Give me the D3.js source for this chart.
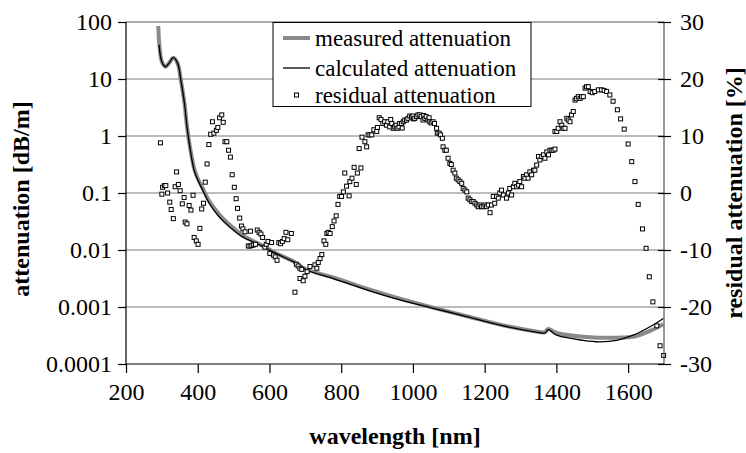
<!DOCTYPE html>
<html><head><meta charset="utf-8">
<script src="https://cdn.jsdelivr.net/npm/d3@7"></script>
<style>
html,body{margin:0;padding:0;background:#fff;}
svg{display:block;font-family:"Liberation Serif","Times New Roman",serif;}
</style></head>
<body><svg id="c" width="746" height="453"></svg>
<script>
// ---- data ----
const xTicks = [200,400,600,800,1000,1200,1400,1600];
const yTicks = [0.0001,0.001,0.01,0.1,1,10,100];
const yTickLabels = ["0.0001","0.001","0.01","0.1","1","10","100"];
const rTicks = [-30,-20,-10,0,10,20,30];

const calcWl  = [292,300,310,320,332,344,353,363,370,378,390,400,414,432,460,488,525,572,618,665,702,778,871,964,1057,1150,1243,1335,1368,1377,1401,1475,1521,1568,1614,1661,1698];
const calcVal = [40,20,16.4,19,23.7,18.8,9.5,3.75,1.46,0.64,0.25,0.17,0.112,0.066,0.038,0.0257,0.017,0.0123,0.0087,0.0063,0.0045,0.00316,0.0020,0.00133,0.00095,0.00068,0.00048,0.00037,0.00035,0.0004,0.00032,0.00026,0.000245,0.00026,0.00032,0.00045,0.00063];

const measWl  = [290,293,300,310,320,332,344,353,363,370,378,390,400,414,432,460,488,525,572,618,665,702,778,871,964,1057,1150,1243,1335,1368,1377,1401,1475,1521,1568,1614,1661,1698];
const measVal = [85,40,20,16.4,19,23.7,18.8,9.5,3.75,1.46,0.66,0.27,0.18,0.12,0.072,0.042,0.028,0.018,0.0127,0.0088,0.0064,0.0046,0.0033,0.0021,0.0014,0.00097,0.00069,0.00049,0.00038,0.00036,0.00041,0.00035,0.0003,0.00029,0.00029,0.0003,0.00038,0.0005];

// residual attenuation [%] : [wavelength, value]
const residual = [[296,8.8],[300,-0.2],[302,1.0],[307,1.3],[311,1.3],[316,0.0],[322,-1.6],[326,-2.9],[332,-4.5],[337,1.1],[341,3.7],[346,1.5],[351,0.4],[357,-1.9],[362,-0.8],[365,-5.1],[370,-5.4],[376,-2.2],[381,-3.0],[387,-0.4],[390,-7.8],[396,-8.4],[401,-9.0],[406,-6.2],[411,-2.8],[416,-1.8],[421,1.9],[426,5.1],[431,8.5],[436,10.3],[441,12.5],[445,10.5],[452,11.0],[456,11.5],[461,13.2],[467,13.7],[471,12.4],[476,9.0],[481,9.0],[486,7.5],[491,6.3],[496,3.2],[502,1.0],[507,-1.0],[511,-2.7],[517,-4.4],[522,-5.8],[526,-6.3],[532,-6.8],[541,-9.3],[546,-9.3],[547,-6.7],[551,-9.2],[556,-9.1],[561,-9.0],[566,-6.5],[571,-6.9],[576,-7.2],[581,-7.8],[587,-9.5],[591,-9.0],[596,-8.5],[601,-10.6],[606,-8.7],[611,-10.9],[616,-11.2],[621,-11.8],[626,-8.7],[631,-8.9],[636,-8.5],[641,-8.0],[646,-6.9],[651,-8.2],[661,-7.1],[671,-17.4],[675,-12.5],[680,-12.8],[685,-13.2],[685,-15.0],[690,-13.4],[694,-15.4],[699,-14.6],[705,-13.8],[713,-12.9],[727,-12.6],[732,-13.2],[736,-12.2],[741,-11.5],[746,-10.8],[752,-8.4],[757,-9.0],[760,-7.1],[764,-6.9],[769,-7.1],[775,-5.9],[780,-4.9],[786,-4.0],[791,-2.0],[796,-0.6],[801,-0.6],[806,0.2],[810,3.5],[815,1.2],[822,-0.5],[824,2.0],[830,2.6],[836,4.5],[842,1.5],[845,3.5],[850,7.8],[855,4.4],[858,9.8],[866,9.0],[871,8.1],[875,10.2],[880,10.2],[885,10.2],[891,11.1],[899,10.8],[901,11.5],[906,13.2],[911,12.9],[916,12.2],[921,12.5],[926,11.9],[930,12.5],[935,11.6],[938,12.9],[941,12.2],[945,11.35],[949,11.6],[953,11.9],[956,11.35],[961,11.6],[963,12.2],[968,12.2],[970,11.4],[973,12.5],[977,12.8],[982,12.8],[986,13.1],[991,13.5],[996,13.3],[1000,13.5],[1002,13.0],[1005,13.1],[1010,13.4],[1014,13.7],[1019,13.7],[1023,13.4],[1028,12.8],[1030,13.6],[1033,13.1],[1037,13.4],[1042,12.8],[1045,13.2],[1047,12.5],[1051,12.3],[1056,12.5],[1060,12.2],[1066,11.35],[1068,10.5],[1073,10.5],[1077,10.2],[1082,9.6],[1084,8.1],[1089,7.5],[1093,7.5],[1098,6.1],[1103,5.2],[1107,5.0],[1112,4.0],[1117,3.5],[1121,2.6],[1126,2.3],[1131,2.0],[1136,1.7],[1140,0.8],[1145,0.5],[1150,0.2],[1154,-0.9],[1159,-1.2],[1164,-1.5],[1168,-1.5],[1173,-1.8],[1178,-2.1],[1182,-2.4],[1187,-2.1],[1191,-2.4],[1196,-2.4],[1201,-2.1],[1205,-2.4],[1210,-2.1],[1215,-3.45],[1219,-2.1],[1224,-0.6],[1228,-1.8],[1233,-0.6],[1238,-0.9],[1242,0.0],[1247,0.5],[1252,-0.35],[1261,-0.9],[1266,0.0],[1270,0.8],[1275,-0.35],[1280,1.1],[1284,1.7],[1289,1.1],[1294,1.4],[1298,2.0],[1303,1.1],[1308,2.9],[1312,2.6],[1317,3.2],[1321,2.6],[1326,3.7],[1331,3.2],[1336,4.0],[1340,4.0],[1345,4.9],[1350,6.4],[1354,5.8],[1359,6.4],[1364,6.7],[1368,6.1],[1373,7.2],[1378,6.7],[1382,7.5],[1387,7.5],[1391,7.5],[1396,7.7],[1396,10.8],[1401,10.8],[1405,11.35],[1410,12.5],[1415,11.9],[1419,11.35],[1424,11.35],[1429,13.1],[1433,12.8],[1438,12.5],[1442,13.7],[1447,14.3],[1452,16.3],[1456,16.6],[1461,16.9],[1466,16.6],[1470,16.9],[1475,16.9],[1480,18.4],[1484,18.65],[1489,18.65],[1494,17.8],[1500,17.6],[1507,17.8],[1517,18.1],[1526,18.1],[1533,18.0],[1540,17.8],[1549,17.2],[1558,16.1],[1570,14.6],[1579,13.0],[1589,11.2],[1600,8.6],[1610,5.5],[1619,2.0],[1628,-2.0],[1640,-6.3],[1650,-9.7],[1659,-14.7],[1669,-19.1],[1680,-23.3],[1689,-26.8],[1699,-28.5]];

const legendLabels = ["measured attenuation","calculated attenuation","residual attenuation"];

// ---- layout ----
const svg = d3.select("#c");
const L = 126, R = 664, T = 22, B = 364;
const x = d3.scaleLinear().domain([200,1700]).range([L,R]);
const y = d3.scaleLog().domain([0.0001,100]).range([B,T]);
const yr = d3.scaleLinear().domain([-30,30]).range([B,T]);
const FS = 24;

// gridlines
svg.append("g").selectAll("line").data(yTicks.slice(1)).join("line")
  .attr("x1",L).attr("x2",R).attr("y1",d=>y(d)).attr("y2",d=>y(d))
  .attr("stroke",d=>d===100?"#555":"#7a7a7a").attr("stroke-width",1.2);

// clip
svg.append("clipPath").attr("id","clp").append("rect").attr("x",L).attr("y",T-2).attr("width",R-L).attr("height",B-T+2);
const plot = svg.append("g").attr("clip-path","url(#clp)");

const line = d3.line().x(d=>x(d[0])).y(d=>y(d[1])).curve(d3.curveCatmullRom.alpha(0.5));
plot.append("path").datum(measWl.map((w,i)=>[w,measVal[i]]))
  .attr("d",line).attr("fill","none").attr("stroke","#8a8a8a").attr("stroke-width",4);
plot.append("path").datum(calcWl.map((w,i)=>[w,calcVal[i]]))
  .attr("d",line).attr("fill","none").attr("stroke","#000").attr("stroke-width",1.3);

// residual markers
svg.append("g").selectAll("rect").data(residual).join("rect")
  .attr("x",d=>x(d[0])-2).attr("y",d=>yr(d[1])-2).attr("width",4).attr("height",4)
  .attr("fill","#fff").attr("stroke","#000").attr("stroke-width",1);

// axes
const axL = svg.append("g").attr("transform",`translate(${L},0)`)
  .call(d3.axisLeft(y).tickValues(yTicks).tickFormat((d,i)=>yTickLabels[i]).tickSize(8).tickPadding(6));
const axR = svg.append("g").attr("transform",`translate(${R},0)`)
  .call(d3.axisRight(yr).tickValues(rTicks).tickFormat(d=>String(d)).tickSize(7).tickPadding(9));
axR.selectAll(".tick line").attr("x1",-6);
const axB = svg.append("g").attr("transform",`translate(0,${B})`)
  .call(d3.axisBottom(x).tickValues(xTicks).tickFormat(d=>String(d)).tickSize(9).tickPadding(10));
[axL,axR,axB].forEach(g=>{
  g.selectAll(".domain").attr("stroke","#000").attr("stroke-width",1.2);
  g.selectAll(".tick line").attr("stroke","#000").attr("stroke-width",1.2);
  g.selectAll("text").attr("font-size",FS).attr("font-family","Liberation Serif, Times New Roman, serif").attr("fill","#000");
});
axL.select(".domain").attr("d",`M0,${B}V${T}`);
axR.select(".domain").attr("d",`M0,${B}V${T}`).attr("stroke","#555");
axB.select(".domain").attr("d",`M${L},0H${R}`);
axB.selectAll("text").attr("dy","0.71em");

// titles
svg.append("text").attr("transform",`translate(29,199) rotate(-90)`).attr("text-anchor","middle")
  .attr("font-size",FS).attr("font-weight","bold").text("attenuation [dB/m]");
svg.append("text").attr("transform",`translate(742,193) rotate(-90)`).attr("text-anchor","middle")
  .attr("font-size",FS).attr("font-weight","bold").text("residual attenuation [%]");
svg.append("text").attr("x",(L+R)/2).attr("y",444).attr("text-anchor","middle")
  .attr("font-size",FS).attr("font-weight","bold").text("wavelength [nm]");

// legend
const lg = svg.append("g");
lg.append("rect").attr("x",273).attr("y",22.5).attr("width",258).attr("height",84)
  .attr("fill","#fff").attr("stroke","#000").attr("stroke-width",1);
const rows = [38,68,95];
lg.append("line").attr("x1",283).attr("x2",310).attr("y1",rows[0]).attr("y2",rows[0]).attr("stroke","#8a8a8a").attr("stroke-width",4);
lg.append("line").attr("x1",283).attr("x2",310).attr("y1",rows[1]).attr("y2",rows[1]).attr("stroke","#000").attr("stroke-width",1.3);
lg.append("rect").attr("x",294.5).attr("y",rows[2]-2).attr("width",4).attr("height",4).attr("fill","#fff").attr("stroke","#000");
lg.selectAll("text.l").data(legendLabels).join("text").attr("class","l")
  .attr("x",315).attr("y",(d,i)=>rows[i]+8).attr("font-size",23).text(d=>d);
</script></body></html>
